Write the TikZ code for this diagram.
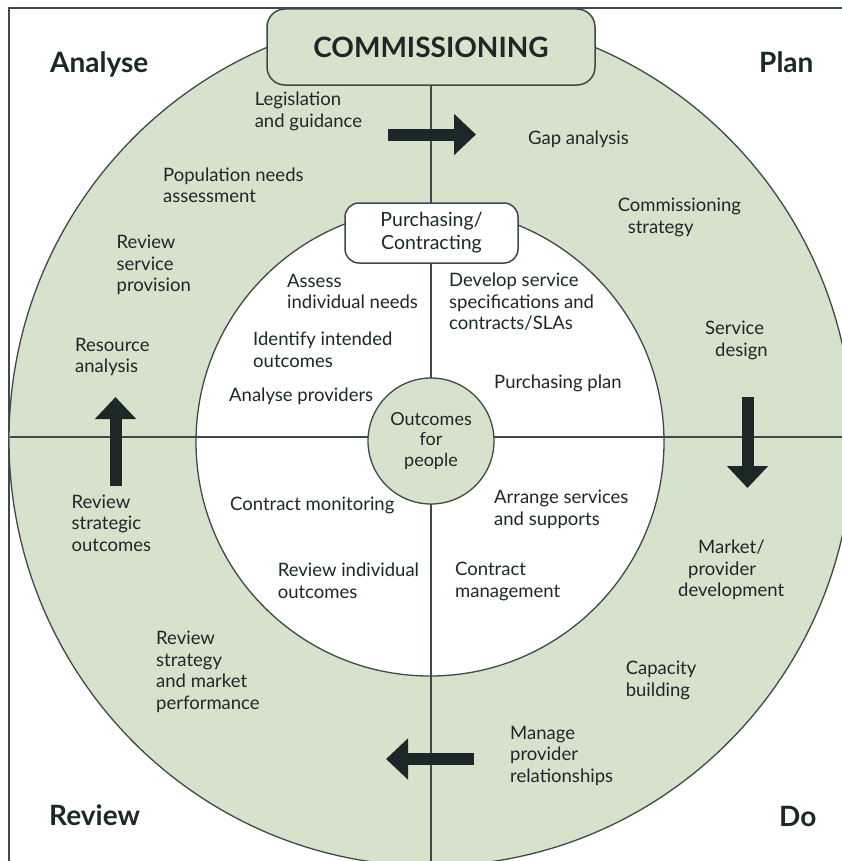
\documentclass[tikz,border=0pt]{standalone}
\usepackage{fontspec}
\setmainfont{Lato}
\usetikzlibrary{arrows.meta}
\definecolor{sage}{RGB}{214,226,204}
\definecolor{ink}{RGB}{28,40,40}
\definecolor{rim}{RGB}{62,74,72}

\tikzset{
  txt/.style={anchor=north west, align=left, inner sep=0pt, text=ink, font=\fontsize{18.5bp}{21.5bp}\selectfont},
  corner/.style={anchor=base west, inner sep=0pt, text=ink, font=\fontsize{28bp}{30bp}\selectfont\bfseries},
  bigarrow/.style={ink, line width=12bp, -{Triangle[width=40bp,length=22bp]}},
  rimline/.style={rim, line width=1.3bp},
}

\begin{document}
\begin{tikzpicture}[x=1bp,y=-1bp]
\useasboundingbox (0,0) rectangle (842,861);
\clip (0,0) rectangle (842,861);
\draw[rim, line width=1.5bp, fill=white] (9,8) rectangle (900,900);
\draw[rimline, fill=sage] (431,440) ellipse [x radius=422, y radius=426];
\draw[rimline, fill=white] (430,442) circle [radius=234];
\draw[rimline] (431,10) -- (431,870);
\draw[rimline] (10,437) -- (860,437);

% boxes and centre
\node[draw=rim, fill=sage, line width=1.5bp, rounded corners=18bp, minimum width=328bp, minimum height=76bp, text=ink, font=\fontsize{28bp}{30bp}\selectfont\bfseries] (comm) at (431,47) {COMMISSIONING};
\node[draw=rim, fill=white, line width=1.5bp, rounded corners=14bp, minimum width=173bp, minimum height=60bp, align=center, text=ink, font=\fontsize{19.5bp}{23bp}\selectfont] (purch) at (431.5,233) {Purchasing/\\Contracting};
\node[circle, draw=rim, fill=sage, line width=1.3bp, minimum size=126bp, inner sep=0pt, align=center, text=ink, font=\fontsize{18bp}{20.5bp}\selectfont] (outc) at (431,441) {Outcomes\\for\\people};

% corners
\node[corner] (analyse) at (50,72) {Analyse};
\node[corner] (plan) at (759,72) {Plan};
\node[corner] (review) at (49,825) {Review};
\node[corner] (do) at (779,826) {Do};

% outer ring
\node[txt] (leg) at (254.6,92) {Legislation\\and guidance};
\node[txt] (gap) at (528,131) {Gap analysis};
\node[txt] (pop) at (163,167.6) {Population needs\\assessment};
\node[txt] (cstrat) at (617.6,198) {Commissioning\\\hspace*{10bp}strategy};
\node[txt] (rsp) at (116.5,235) {Review\\service\\provision};
\node[txt] (res) at (75,338) {Resource\\analysis};
\node[txt] (sdes) at (705,321) {Service\\\hspace*{10bp}design};
\node[txt] (rso) at (71.4,494.5) {Review\\strategic\\outcomes};
\node[txt] (mkt) at (678,540) {\hspace*{20bp}Market/\\\hspace*{10bp}provider\\development};
\node[txt] (rsm) at (156,631) {Review\\strategy\\and market\\performance};
\node[txt] (cap) at (625.6,661) {Capacity\\building};
\node[txt] (mpr) at (510,726) {Manage\\provider\\relationships};

% inner ring
\node[txt] (assess) at (287,274) {Assess\\individual needs};
\node[txt] (ident) at (253,332) {Identify intended\\outcomes};
\node[txt] (anprov) at (229,388) {Analyse providers};
\node[txt] (dev) at (449,273) {Develop service\\specifications and\\contracts/SLAs};
\node[txt] (pplan) at (494,375) {Purchasing plan};
\node[txt] (cmon) at (230,497) {Contract monitoring};
\node[txt] (rind) at (277.6,563) {Review individual\\outcomes};
\node[txt] (arr) at (494,490) {Arrange services\\and supports};
\node[txt] (cman) at (455,562) {Contract\\management};

% cycle arrows
\coordinate (topA) at (388,134.5);
\coordinate (topB) at (476,134.5);
\coordinate (rgtA) at (747.5,397);
\coordinate (rgtB) at (747.5,488);
\coordinate (botA) at (474,759);
\coordinate (botB) at (386,759);
\coordinate (lftA) at (115.5,486);
\coordinate (lftB) at (115.5,397);
\draw[bigarrow] (topA) -- (topB);
\draw[bigarrow] (rgtA) -- (rgtB);
\draw[bigarrow] (botA) -- (botB);
\draw[bigarrow] (lftA) -- (lftB);
\end{tikzpicture}
\end{document}
